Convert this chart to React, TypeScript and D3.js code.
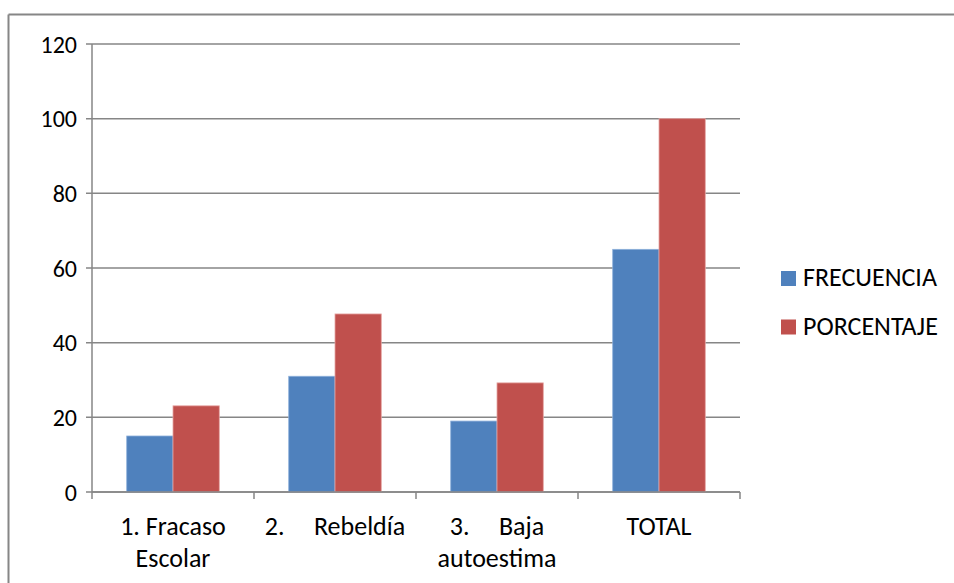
import React from "react";
import * as d3 from "d3";

const categories = ["1. Fracaso\nEscolar", "2.     Rebeldía", "3.     Baja\nautoestima", "TOTAL"];
const seriesNames = ["FRECUENCIA", "PORCENTAJE"];
const frecuencia = [15, 31, 19, 65];
const porcentaje = [23.08, 47.69, 29.23, 100];
const yTicks = [0, 20, 40, 60, 80, 100, 120];
const colors = ["#4F81BD", "#C0504D"];
const strokes = ["#8DB0DB", "#E6A6A4"];

const W = 954, H = 583;
const plot = { left: 92, right: 740, top: 44, bottom: 492 };
const FONT = "Carlito, Calibri, Lato, 'Open Sans', sans-serif";

export default function App() {
  const x = d3.scaleBand<string>().domain(categories).range([plot.left, plot.right]).paddingInner(0).paddingOuter(0);
  const y = d3.scaleLinear().domain([0, 120]).range([plot.bottom, plot.top]);
  const band = x.bandwidth();
  const barW = band / 3.5;
  const inner = d3.scaleBand<number>().domain([0, 1]).range([0, 2 * barW]);
  const series = [frecuencia, porcentaje];
  const gridColor = "#868686";
  const boundaries = categories.map((c) => x(c)!).concat([plot.right]);

  return (
    <svg width={W} height={H} style={{ position: "absolute", left: 0, top: 0, background: "#fff" }}>
      <line x1={8.5} y1={14.5} x2={W} y2={14.5} stroke={gridColor} strokeWidth={2} />
      <line x1={8.5} y1={14.5} x2={8.5} y2={H} stroke={gridColor} strokeWidth={2} />
      {yTicks.map((t) => (
        <g key={t}>
          <line x1={plot.left - 6} x2={plot.right} y1={y(t)} y2={y(t)} stroke={gridColor} strokeWidth={1.5} />
          <text x={77} y={y(t)} dy="0.36em" textAnchor="end" fontFamily={FONT} fontSize={24} fill="#000">{t}</text>
        </g>
      ))}
      <line x1={plot.left} x2={plot.left} y1={plot.top} y2={plot.bottom} stroke={gridColor} strokeWidth={1.5} />
      {series.map((vals, si) =>
        vals.map((v, i) => (
          <rect key={`${si}-${i}`}
            x={x(categories[i])! + (band - 2 * barW) / 2 + inner(si)!}
            y={y(v)} width={barW} height={plot.bottom - y(v)}
            fill={colors[si]} stroke={strokes[si]} strokeWidth={0.8} />
        ))
      )}
      <line x1={plot.left} x2={plot.right} y1={plot.bottom} y2={plot.bottom} stroke={gridColor} strokeWidth={1.5} />
      {boundaries.map((bx, i) => (
        <line key={i} x1={bx} x2={bx} y1={plot.bottom} y2={plot.bottom + 7} stroke={gridColor} strokeWidth={1.5} />
      ))}
      {categories.map((c) => (
        <text key={c} x={x(c)! + band / 2} y={535} textAnchor="middle" fontFamily={FONT} fontSize={26} fill="#000" style={{ whiteSpace: "pre" }}>
          {c.split("\n").map((line, li) => (
            <tspan key={li} x={x(c)! + band / 2} dy={li === 0 ? 0 : 32}>{line}</tspan>
          ))}
        </text>
      ))}
      {seriesNames.map((n, i) => (
        <g key={n}>
          <rect x={781} y={271 + i * 48.5} width={15} height={15} fill={colors[i]} />
          <text x={803} y={286 + i * 48.5} fontFamily={FONT} fontSize={26} fill="#000">{n}</text>
        </g>
      ))}
    </svg>
  );
}
